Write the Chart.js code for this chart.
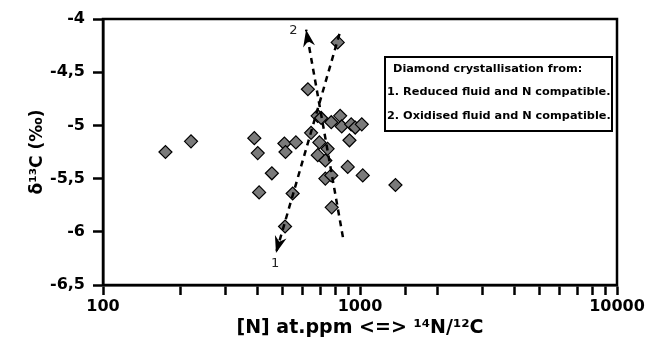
<!DOCTYPE html>
<html>
<head>
<meta charset="utf-8">
<script src="https://cdn.jsdelivr.net/npm/chart.js@4.4.0/dist/chart.umd.min.js"></script>
<style>
html, body { margin: 0; padding: 0; background: #fff; }
#wrap { width: 662px; height: 348px; }
</style>
</head>
<body>
<div id="wrap"><canvas id="chart" width="662" height="348"></canvas></div>
<script>
'use strict';

// ── Datos ────────────────────────────────────────────────
const nPpm = [175, 220, 388, 400, 405, 454, 508, 513, 511, 547, 563, 627, 645, 684, 706, 695, 685,
              748, 733, 733, 773, 773, 776, 819, 837, 849, 896, 910, 924, 958, 1016, 1025, 1374];
const d13C = [-5.25, -5.15, -5.12, -5.26, -5.63, -5.45, -5.17, -5.25, -5.95, -5.64, -5.16, -4.66, -5.07, -4.91, -4.93, -5.16, -5.28,
              -5.22, -5.33, -5.50, -5.47, -4.97, -5.77, -4.22, -4.91, -5.01, -5.39, -5.14, -4.99, -5.02, -4.99, -5.47, -5.56];

// tendencias (inicio -> punta de flecha)
const trend1X = [832, 471];
const trend1Y = [-4.14, -6.20];
const trend2X = [858, 617];
const trend2Y = [-6.05, -4.10];
const trendNames = ['1', '2'];
const trendNameX = [467, 550];
const trendNameY = [-6.30, -4.11];

const xTickLabels = [100, 1000, 10000];
const yTicks = [-4, -4.5, -5, -5.5, -6, -6.5];

const legendTitle = 'Diamond crystallisation from:';
const legendLines = ['1. Reduced fluid and N compatible.', '2. Oxidised fluid and N compatible.'];

const FONT = '"DejaVu Sans", sans-serif';

// ── Plugins ──────────────────────────────────────────────
const framePlugin = {
    id: 'frame',
    afterDraw(chart) {
        const { ctx, chartArea: a } = chart;
        ctx.save();
        ctx.strokeStyle = '#000';
        ctx.lineWidth = 2.5;
        ctx.strokeRect(a.left, a.top, a.right - a.left, a.bottom - a.top);
        ctx.restore();
    }
};

const arrowPlugin = {
    id: 'arrows',
    afterDatasetsDraw(chart) {
        const ctx = chart.ctx;
        const xs = chart.scales.x, ys = chart.scales.y;
        chart.data.datasets.forEach((ds, i) => {
            if (!ds.arrow) return;
            const pts = chart.getDatasetMeta(i).data;
            const a = pts[pts.length - 2], b = pts[pts.length - 1];
            const ang = Math.atan2(b.y - a.y, b.x - a.x);
            const len = 17, half = 6;
            ctx.save();
            ctx.translate(b.x, b.y);
            ctx.rotate(ang);
            ctx.beginPath();
            ctx.moveTo(0, 0);
            ctx.lineTo(-len, -half);
            ctx.lineTo(-len * 0.7, 0);
            ctx.lineTo(-len, half);
            ctx.closePath();
            ctx.fillStyle = '#000';
            ctx.fill();
            ctx.restore();
        });
        ctx.save();
        ctx.font = '13px ' + FONT;
        ctx.fillStyle = '#222';
        ctx.textAlign = 'center';
        ctx.textBaseline = 'middle';
        trendNames.forEach((t, i) => {
            ctx.fillText(t, xs.getPixelForValue(trendNameX[i]), ys.getPixelForValue(trendNameY[i]));
        });
        ctx.restore();
    }
};

const legendBoxPlugin = {
    id: 'legendBox',
    afterDraw(chart) {
        const ctx = chart.ctx;
        const a = chart.chartArea;
        const x0 = a.right - 232, y0 = a.top + 38, w = 227, h = 74;
        ctx.save();
        ctx.strokeStyle = '#000';
        ctx.lineWidth = 2;
        ctx.strokeRect(x0, y0, w, h);
        ctx.fillStyle = '#000';
        ctx.font = 'bold 11.3px ' + FONT;
        ctx.textBaseline = 'middle';
        ctx.textAlign = 'left';
        ctx.fillText(legendTitle, x0 + 8, y0 + 12);
        legendLines.forEach((t, i) => ctx.fillText(t, x0 + 2, y0 + 35 + i * 24));
        ctx.restore();
    }
};

// ── Gráfico ──────────────────────────────────────────────
new Chart(document.getElementById('chart'), {
    type: 'scatter',
    data: {
        datasets: [
            {
                data: trend1X.map((x, i) => ({ x, y: trend1Y[i] })),
                showLine: true, arrow: true, order: 0,
                borderColor: '#000', borderWidth: 2.5, borderDash: [6, 5],
                pointRadius: 0, fill: false
            },
            {
                data: trend2X.map((x, i) => ({ x, y: trend2Y[i] })),
                showLine: true, arrow: true, order: 0,
                borderColor: '#000', borderWidth: 2.5, borderDash: [6, 5],
                pointRadius: 0, fill: false
            },
            {
                data: nPpm.map((x, i) => ({ x, y: d13C[i] })),
                order: 1,
                pointStyle: 'rectRot',
                pointRadius: 6.5,
                backgroundColor: '#7a7a7a',
                borderColor: '#000',
                borderWidth: 1.2
            }
        ]
    },
    options: {
        responsive: false,
        animation: false,
        layout: { padding: { top: 19, right: 45, left: 0, bottom: 0 } },
        plugins: { legend: { display: false }, tooltip: { enabled: false } },
        scales: {
            x: {
                type: 'logarithmic',
                min: 100, max: 10000,
                afterFit: s => { s.height = 63; },
                grid: { drawOnChartArea: false, drawTicks: true, tickLength: 10, tickWidth: 2.5, tickColor: '#000' },
                border: { color: '#000', width: 2.5 },
                ticks: {
                    autoSkip: false, maxRotation: 0, padding: 2,
                    color: '#000', font: { family: FONT, size: 16, weight: 'bold' },
                    callback: v => xTickLabels.includes(v) ? String(v) : ''
                },
                title: {
                    display: true, text: '[N] at.ppm <=> ¹⁴N/¹²C',
                    color: '#000', font: { family: FONT, size: 19, weight: 'bold' },
                    padding: { top: 9, bottom: 9 }
                }
            },
            y: {
                min: -6.5, max: -4,
                afterFit: s => { s.width = 103; },
                afterBuildTicks: s => { s.ticks = yTicks.map(v => ({ value: v })); },
                grid: { drawOnChartArea: false, drawTicks: true, tickLength: 10, tickWidth: 2.5, tickColor: '#000' },
                border: { color: '#000', width: 2.5 },
                ticks: {
                    padding: 8,
                    color: '#000', font: { family: FONT, size: 16, weight: 'bold' },
                    callback: v => String(v).replace('.', ',')
                },
                title: {
                    display: true, text: 'δ¹³C (‰)',
                    color: '#000', font: { family: FONT, size: 17, weight: 'bold' },
                    padding: { top: 27, bottom: 0 }
                }
            }
        }
    },
    plugins: [framePlugin, arrowPlugin, legendBoxPlugin]
});
</script>
</body>
</html>
